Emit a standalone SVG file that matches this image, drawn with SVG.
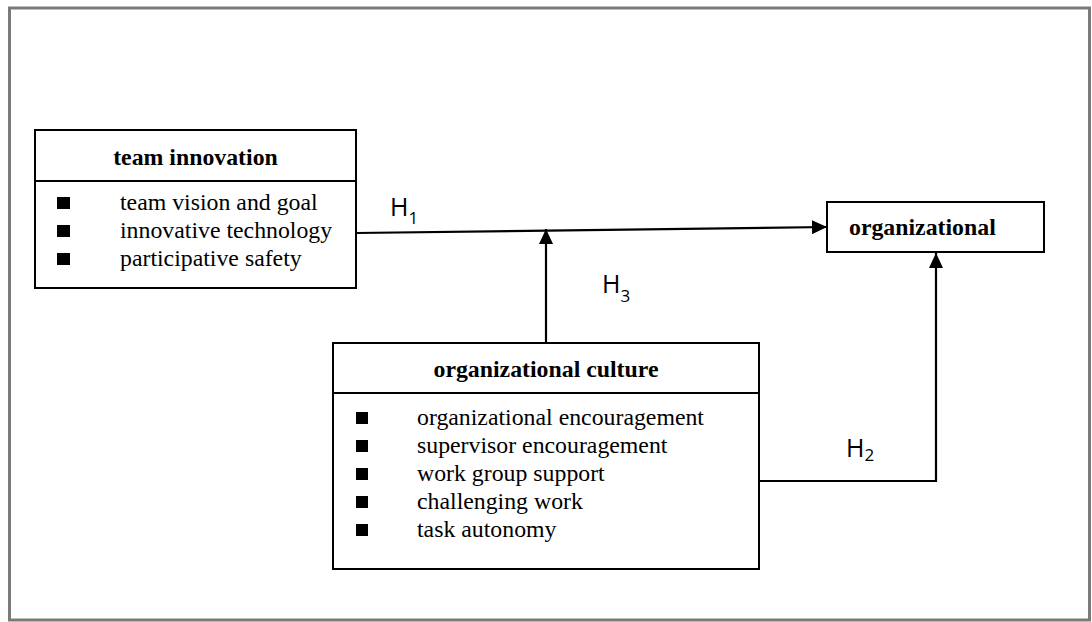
<svg xmlns="http://www.w3.org/2000/svg" width="1092" height="622" viewBox="0 0 1092 622">
<defs>
<style>
.box{fill:#fff;stroke:#000;stroke-width:2}
.div{stroke:#000;stroke-width:2}
.title{font-family:"Liberation Serif","Times New Roman",serif;font-weight:bold;font-size:23.8px;fill:#000}
.item{font-family:"Liberation Serif","Times New Roman",serif;font-size:23.8px;fill:#000}
.bul{fill:#000}
.lbl{font-family:"Open Sans","Liberation Sans",sans-serif;font-size:25px;fill:#000}
.sub{font-size:17px}
.conn{fill:none;stroke:#000;stroke-width:2.2}
</style>
<marker id="arr" viewBox="0 0 15 14" refX="15" refY="7" markerWidth="15" markerHeight="14" markerUnits="userSpaceOnUse" orient="auto">
<path d="M0,0 L15,7 L0,14 Z" fill="#000"/>
</marker>
</defs>
<rect x="0" y="0" width="1092" height="622" fill="#fff"/>
<rect x="9.5" y="8" width="1080" height="612" fill="none" stroke="#7a7a7a" stroke-width="3"/>

<g id="team-innovation">
<rect class="box" x="35" y="130" width="321" height="158"/>
<line class="div" x1="35" y1="181" x2="356" y2="181"/>
<text class="title" x="195.5" y="165" text-anchor="middle">team innovation</text>
<rect class="bul" x="57" y="197" width="13" height="12"/>
<rect class="bul" x="57" y="225" width="13" height="12"/>
<rect class="bul" x="57" y="253" width="13" height="12"/>
<text class="item" x="120" y="210">team vision and goal</text>
<text class="item" x="120" y="238">innovative technology</text>
<text class="item" x="120" y="266">participative safety</text>
</g>

<g id="organizational">
<rect class="box" x="827" y="202" width="217" height="50"/>
<text class="title" x="849" y="235">organizational</text>
</g>

<g id="organizational-culture">
<rect class="box" x="333" y="343" width="426" height="226"/>
<line class="div" x1="333" y1="393" x2="759" y2="393"/>
<text class="title" x="546" y="377" text-anchor="middle">organizational culture</text>
<rect class="bul" x="356" y="412" width="12" height="12"/>
<rect class="bul" x="356" y="440" width="12" height="12"/>
<rect class="bul" x="356" y="468" width="12" height="12"/>
<rect class="bul" x="356" y="496" width="12" height="12"/>
<rect class="bul" x="356" y="524" width="12" height="12"/>
<text class="item" x="417" y="425">organizational encouragement</text>
<text class="item" x="417" y="453">supervisor encouragement</text>
<text class="item" x="417" y="481">work group support</text>
<text class="item" x="417" y="509">challenging work</text>
<text class="item" x="417" y="537">task autonomy</text>
</g>

<g id="connectors">
<line class="conn" x1="356" y1="233" x2="827" y2="227" marker-end="url(#arr)"/>
<line class="conn" x1="546" y1="343" x2="546" y2="229" marker-end="url(#arr)"/>
<polyline class="conn" points="759,481 936,481 936,253" marker-end="url(#arr)"/>
<text class="lbl" x="390" y="216">H<tspan class="sub" dy="8">1</tspan></text>
<text class="lbl" x="602" y="293">H<tspan class="sub" dy="9">3</tspan></text>
<text class="lbl" x="846" y="457">H<tspan class="sub" dy="4">2</tspan></text>
</g>
</svg>
